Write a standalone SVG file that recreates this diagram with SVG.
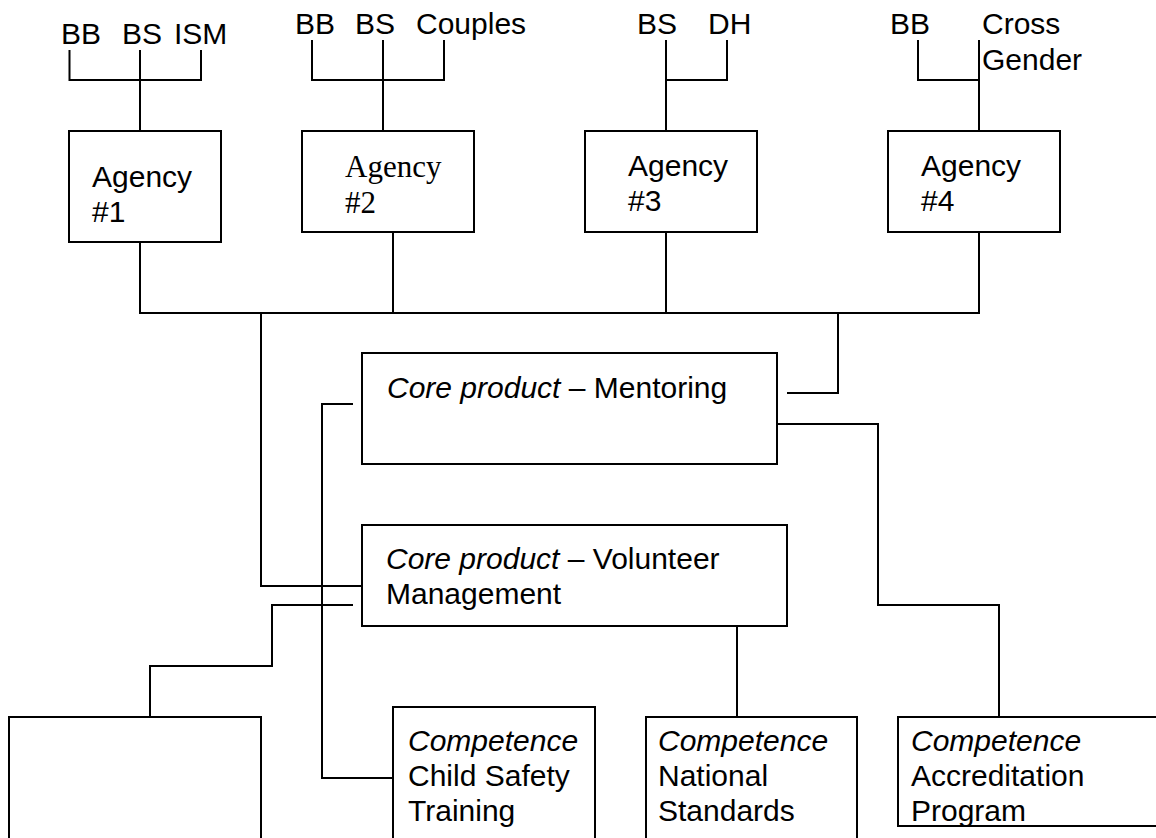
<svg xmlns="http://www.w3.org/2000/svg" width="1156" height="838" viewBox="0 0 1156 838">
<style>
.box{fill:#fff;stroke:#000;stroke-width:2}
.ln{fill:none;stroke:#000;stroke-width:2}
.t{font-family:"Liberation Sans",Arial,sans-serif;font-size:30px;fill:#000}
.s{font-family:"Liberation Serif","Times New Roman",serif;font-size:31px;fill:#000}
.i{font-style:italic}
</style>
<rect width="1156" height="838" fill="#fff"/>
<g id="connectors">
<path class="ln" d="M69.5 50V80H201V50M140 50V131"/>
<path class="ln" d="M312 40V80H444V40M383 40V131"/>
<path class="ln" d="M666 40V131M666 80H727V40"/>
<path class="ln" d="M918 40V80H979M979 40V131"/>
<path class="ln" d="M140 242V313H979V232M393 232V313M666 232V313"/>
<path class="ln" d="M261 313V586H362"/>
<path class="ln" d="M838 313V393H787"/>
<path class="ln" d="M353 404H322V778H393"/>
<path class="ln" d="M777 424H878V605H999V717"/>
<path class="ln" d="M353 605H272V666H150V717"/>
<path class="ln" d="M737 626V717"/>
</g>
<g id="labels">
<text class="t" x="61" y="44">BB</text>
<text class="t" x="122" y="44">BS</text>
<text class="t" x="174" y="44">ISM</text>
<text class="t" x="295" y="34">BB</text>
<text class="t" x="355" y="34">BS</text>
<text class="t" x="416" y="34">Couples</text>
<text class="t" x="637" y="34">BS</text>
<text class="t" x="708" y="34">DH</text>
<text class="t" x="890" y="34">BB</text>
<text class="t" x="982" y="34">Cross</text>
<text class="t" x="982" y="70">Gender</text>
</g>
<g id="agency1">
<rect class="box" x="69" y="131" width="152" height="111"/>
<text class="t" x="92" y="187">Agency</text>
<text class="t" x="92" y="222">#1</text>
</g>
<g id="agency2">
<rect class="box" x="302" y="131" width="172" height="101"/>
<text class="s" x="345" y="177">Agency</text>
<text class="s" x="345" y="213">#2</text>
</g>
<g id="agency3">
<rect class="box" x="585" y="131" width="172" height="101"/>
<text class="t" x="628" y="176">Agency</text>
<text class="t" x="628" y="211">#3</text>
</g>
<g id="agency4">
<rect class="box" x="888" y="131" width="172" height="101"/>
<text class="t" x="921" y="176">Agency</text>
<text class="t" x="921" y="211">#4</text>
</g>
<g id="mentoring">
<rect class="box" x="362" y="353" width="415" height="111"/>
<text class="t" x="387" y="398"><tspan class="i">Core product</tspan> – Mentoring</text>
</g>
<g id="volunteer">
<rect class="box" x="362" y="525" width="425" height="101"/>
<text class="t" x="386" y="569"><tspan class="i">Core product</tspan> – Volunteer</text>
<text class="t" x="386" y="604">Management</text>
</g>
<g id="blank">
<rect class="box" x="9" y="717" width="252" height="130"/>
</g>
<g id="childsafety">
<rect class="box" x="393" y="707" width="202" height="140"/>
<text class="t i" x="408" y="751">Competence</text>
<text class="t" x="408" y="786">Child Safety</text>
<text class="t" x="408" y="821">Training</text>
</g>
<g id="national">
<rect class="box" x="646" y="717" width="211" height="130"/>
<text class="t i" x="658" y="751">Competence</text>
<text class="t" x="658" y="786">National</text>
<text class="t" x="658" y="821">Standards</text>
</g>
<g id="accreditation">
<rect class="box" x="898" y="717" width="270" height="109"/>
<text class="t i" x="911" y="751">Competence</text>
<text class="t" x="911" y="786">Accreditation</text>
<text class="t" x="911" y="821">Program</text>
</g>
</svg>
